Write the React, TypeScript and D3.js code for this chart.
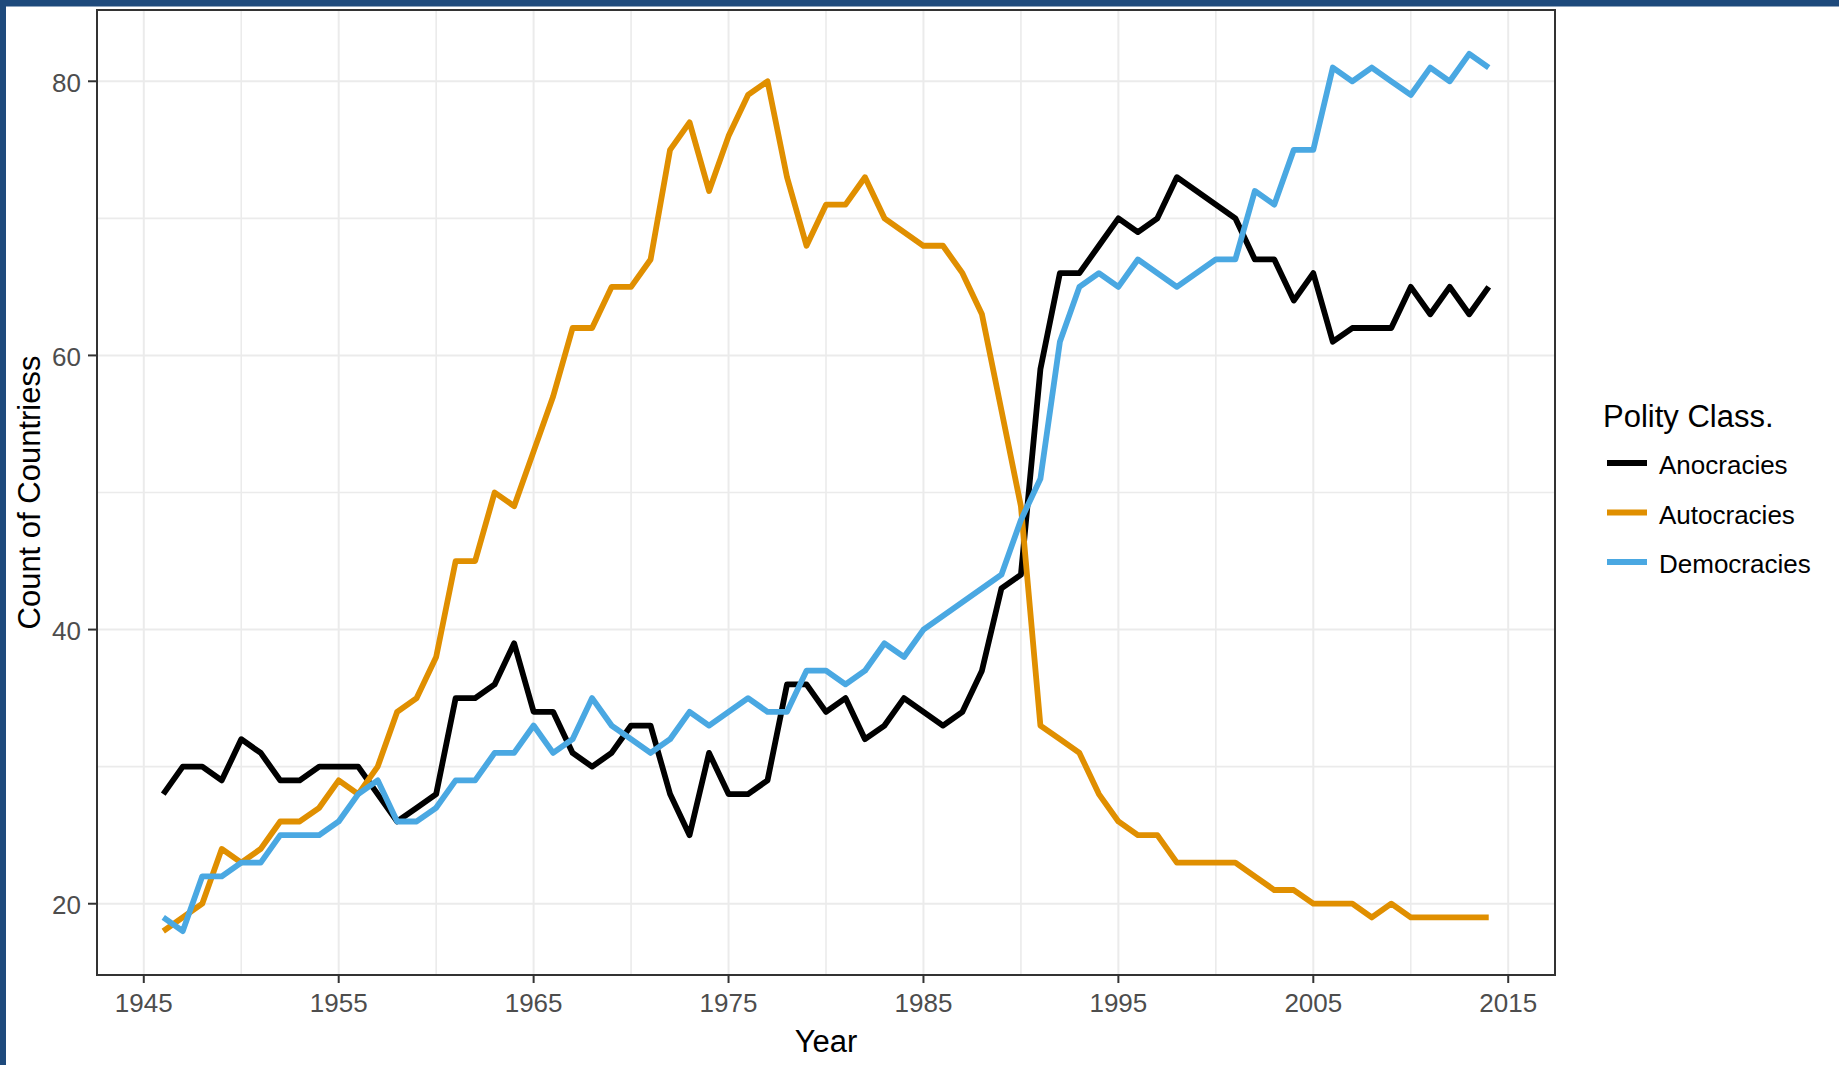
import React from "react";
import * as d3 from "d3";

const years: number[] = d3.range(1946, 2015);

const anocracies: number[] = [
  28, 30, 30, 29, 32, 31, 29, 29, 30, 30, 30, 28, 26, 27, 28,
  35, 35, 36, 39, 34, 34, 31, 30, 31, 33, 33, 28, 25, 31, 28,
  28, 29, 36, 36, 34, 35, 32, 33, 35, 34, 33, 34, 37, 43, 44,
  59, 66, 66, 68, 70, 69, 70, 73, 72, 71, 70, 67, 67, 64, 66,
  61, 62, 62, 62, 65, 63, 65, 63, 65,
];

const autocracies: number[] = [
  18, 19, 20, 24, 23, 24, 26, 26, 27, 29, 28, 30, 34, 35, 38,
  45, 45, 50, 49, 53, 57, 62, 62, 65, 65, 67, 75, 77, 72, 76,
  79, 80, 73, 68, 71, 71, 73, 70, 69, 68, 68, 66, 63, 56, 49,
  33, 32, 31, 28, 26, 25, 25, 23, 23, 23, 23, 22, 21, 21, 20,
  20, 20, 19, 20, 19, 19, 19, 19, 19,
];

const democracies: number[] = [
  19, 18, 22, 22, 23, 23, 25, 25, 25, 26, 28, 29, 26, 26, 27,
  29, 29, 31, 31, 33, 31, 32, 35, 33, 32, 31, 32, 34, 33, 34,
  35, 34, 34, 37, 37, 36, 37, 39, 38, 40, 41, 42, 43, 44, 48,
  51, 61, 65, 66, 65, 67, 66, 65, 66, 67, 67, 72, 71, 75, 75,
  81, 80, 81, 80, 79, 81, 80, 82, 81,
];

const seriesNames: string[] = ["Anocracies", "Autocracies", "Democracies"];
const seriesColors: string[] = ["#000000", "#E08F00", "#4AA8E2"];

const xMajor: number[] = [1945, 1955, 1965, 1975, 1985, 1995, 2005, 2015];
const xMinor: number[] = [1950, 1960, 1970, 1980, 1990, 2000, 2010];
const yMajor: number[] = [20, 40, 60, 80];
const yMinor: number[] = [30, 50, 70];

const FONT = "'Liberation Sans', Arial, Helvetica, sans-serif";

export default function App() {
  const W = 1839;
  const H = 1065;
  const left = 97;
  const right = 1555;
  const top = 10;
  const bottom = 975;

  const xs = d3.scaleLinear().domain([1942.6, 2017.4]).range([left, right]);
  const ys = d3.scaleLinear().domain([14.8, 85.2]).range([bottom, top]);

  const allSeries = [anocracies, autocracies, democracies];
  const line = d3
    .line<number>()
    .x((_, i) => xs(years[i]))
    .y((d) => ys(d));

  const legendY = [463, 512.5, 562];

  return (
    <div style={{ position: "absolute", left: 0, top: 0 }}>
      <svg width={W} height={H} viewBox={`0 0 ${W} ${H}`} style={{ display: "block" }}>
        <rect x={0} y={0} width={W} height={H} fill="#ffffff" />
        {/* outer frame */}
        <rect x={0} y={0} width={W} height={6.5} fill="#1e4a7c" />
        <rect x={0} y={0} width={6} height={H} fill="#1e4a7c" />

        {/* grid */}
        <g>
          {xMinor.map((v) => (
            <line key={"xm" + v} x1={xs(v)} x2={xs(v)} y1={top} y2={bottom} stroke="#ebebeb" strokeWidth={1.6} />
          ))}
          {yMinor.map((v) => (
            <line key={"ym" + v} x1={left} x2={right} y1={ys(v)} y2={ys(v)} stroke="#ebebeb" strokeWidth={1.6} />
          ))}
          {xMajor.map((v) => (
            <line key={"xM" + v} x1={xs(v)} x2={xs(v)} y1={top} y2={bottom} stroke="#ebebeb" strokeWidth={2} />
          ))}
          {yMajor.map((v) => (
            <line key={"yM" + v} x1={left} x2={right} y1={ys(v)} y2={ys(v)} stroke="#ebebeb" strokeWidth={2} />
          ))}
        </g>

        {/* data lines */}
        <g>
          {allSeries.map((s, i) => (
            <path
              key={seriesNames[i]}
              d={line(s) || ""}
              fill="none"
              stroke={seriesColors[i]}
              strokeWidth={5.8}
              strokeLinejoin="round"
              strokeLinecap="butt"
            />
          ))}
        </g>

        {/* panel border */}
        <rect x={left} y={top} width={right - left} height={bottom - top} fill="none" stroke="#333333" strokeWidth={2} />

        {/* x axis ticks */}
        <g>
          {xMajor.map((v) => (
            <g key={"xt" + v}>
              <line x1={xs(v)} x2={xs(v)} y1={bottom} y2={bottom + 8} stroke="#333333" strokeWidth={2} />
              <text x={xs(v)} y={1012} textAnchor="middle" fontFamily={FONT} fontSize={26} fill="#4d4d4d">
                {v}
              </text>
            </g>
          ))}
        </g>

        {/* y axis ticks */}
        <g>
          {yMajor.map((v) => (
            <g key={"yt" + v}>
              <line x1={left - 9} x2={left} y1={ys(v)} y2={ys(v)} stroke="#333333" strokeWidth={2} />
              <text x={81} y={ys(v) + 10.5} textAnchor="end" fontFamily={FONT} fontSize={26} fill="#4d4d4d">
                {v}
              </text>
            </g>
          ))}
        </g>

        {/* axis titles */}
        <text x={(left + right) / 2} y={1052} textAnchor="middle" fontFamily={FONT} fontSize={31} fill="#000000">
          Year
        </text>
        <text
          transform={`translate(40, ${(top + bottom) / 2}) rotate(-90)`}
          textAnchor="middle"
          fontFamily={FONT}
          fontSize={31}
          fill="#000000"
        >
          Count of Countriess
        </text>

        {/* legend */}
        <text x={1603} y={427} fontFamily={FONT} fontSize={31} fill="#000000">
          Polity Class.
        </text>
        {seriesNames.map((n, i) => (
          <g key={"lg" + n}>
            <line x1={1607} x2={1647} y1={legendY[i]} y2={legendY[i]} stroke={seriesColors[i]} strokeWidth={6} />
            <text x={1659} y={legendY[i] + 11} fontFamily={FONT} fontSize={26} fill="#000000">
              {n}
            </text>
          </g>
        ))}
      </svg>
    </div>
  );
}
